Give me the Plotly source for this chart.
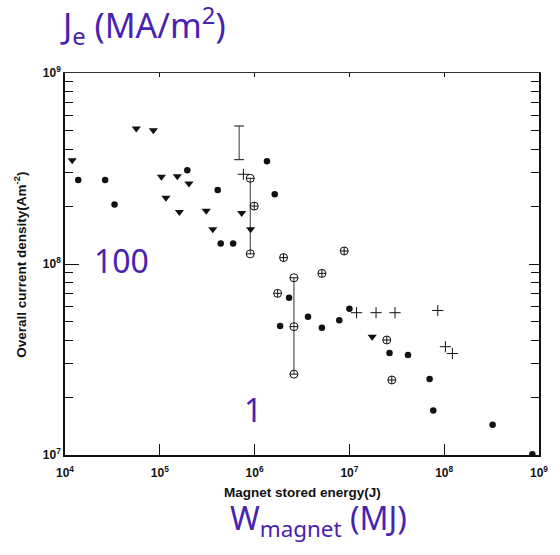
import plotly.graph_objects as go

# Overall current density (A/m^2) versus magnet stored energy (J)

# filled circles
circ_x = [1.38e4, 2.65e4, 3.33e4, 1.95e5, 4.08e5, 4.39e5, 5.94e5, 1.35e6, 1.63e6,
          1.86e6, 2.31e6, 1.00e7, 3.66e6, 5.13e6, 7.82e6, 2.65e7, 4.15e7, 7.02e7,
          7.67e7, 3.24e8, 8.51e8]
circ_y = [2.75e8, 2.75e8, 2.05e8, 3.10e8, 2.44e8, 1.28e8, 1.28e8, 3.45e8, 2.32e8,
          4.73e7, 6.65e7, 5.83e7, 5.30e7, 4.63e7, 5.07e7, 3.42e7, 3.34e7, 2.50e7,
          1.71e7, 1.44e7, 1.01e7]

# filled down-triangles
tri_x = [1.19e4, 5.65e4, 8.55e4, 1.04e5, 1.53e5, 2.03e5, 1.16e5, 1.61e5, 3.09e5,
         3.62e5, 7.31e5, 9.08e5, 1.74e7]
tri_y = [3.49e8, 5.12e8, 5.01e8, 2.86e8, 2.88e8, 2.64e8, 2.22e8, 1.87e8, 1.90e8,
         1.52e8, 1.85e8, 1.52e8, 4.16e7]

# plus signs
plus_x = [7.62e5, 1.19e7, 1.91e7, 3.03e7, 8.55e7, 1.03e8, 1.22e8]
plus_y = [2.95e8, 5.56e7, 5.56e7, 5.56e7, 5.71e7, 3.69e7, 3.40e7]

# circled plus
cplus_x = [9.91e5, 2.02e6, 1.75e6, 5.13e6, 8.81e6, 2.48e7, 2.80e7]
cplus_y = [2.01e8, 1.08e8, 7.02e7, 8.93e7, 1.17e8, 4.00e7, 2.47e7]

# circled minus, joined by vertical lines (two magnets)
cminA_x = [9.0e5, 9.0e5]
cminA_y = [2.81e8, 1.13e8]
cminB_x = [2.60e6, 2.60e6, 2.60e6]
cminB_y = [8.47e7, 4.70e7, 2.65e7]

# range bar
bar_x = [6.87e5, 6.87e5]
bar_y = [5.28e8, 3.52e8]

x_ticks = [1e4, 1e5, 1e6, 1e7, 1e8, 1e9]
x_tick_text = ["10<sup>4</sup>", "10<sup>5</sup>", "10<sup>6</sup>",
               "10<sup>7</sup>", "10<sup>8</sup>", "10<sup>9</sup>"]
y_ticks = [1e7, 1e8, 1e9]
y_tick_text = ["10<sup>7</sup>", "10<sup>8</sup>", "10<sup>9</sup>"]
y_minor = [m * 10 ** e for e in (7, 8) for m in range(2, 10)]

INK = "#111111"
PURPLE = "#4A22B0"

fig = go.Figure()

for xs, ys in ((cminA_x, cminA_y), (cminB_x, cminB_y)):
    fig.add_trace(go.Scatter(x=xs, y=ys, mode="lines",
                             line=dict(color="#333333", width=1)))

fig.add_trace(go.Scatter(x=bar_x, y=bar_y, mode="lines+markers",
                         line=dict(color="#333333", width=1),
                         marker=dict(symbol="line-ew-open", size=7, color="#333333",
                                     line=dict(color="#333333", width=1.2))))

fig.add_trace(go.Scatter(x=circ_x, y=circ_y, mode="markers",
                         marker=dict(symbol="circle", size=6.5, color=INK)))
fig.add_trace(go.Scatter(x=tri_x, y=tri_y, mode="markers",
                         marker=dict(symbol="triangle-down", size=8, color=INK)))
fig.add_trace(go.Scatter(x=plus_x, y=plus_y, mode="markers",
                         marker=dict(symbol="cross-thin-open", size=8, color=INK,
                                     line=dict(color=INK, width=1))))
fig.add_trace(go.Scatter(x=cplus_x, y=cplus_y, mode="markers",
                         marker=dict(symbol="circle-cross-open", size=8,
                                     color=INK, line=dict(color=INK, width=1))))
for xs, ys in ((cminA_x, cminA_y), (cminB_x, cminB_y)):
    fig.add_trace(go.Scatter(x=xs, y=ys, mode="markers",
                             marker=dict(symbol="circle-open", size=8, color=INK,
                                         line=dict(color=INK, width=1))))
    fig.add_trace(go.Scatter(x=xs, y=ys, mode="markers",
                             marker=dict(symbol="line-ew-open", size=6, color=INK,
                                         line=dict(color=INK, width=1))))

# top and right frame axes with their own short ticks
fig.add_trace(go.Scatter(x=[1e4], y=[1e7], xaxis="x2", yaxis="y2",
                         mode="markers", marker=dict(opacity=0)))

tick_font = dict(family="Liberation Sans, Arial", size=12, color=INK, weight="bold")
title_font = dict(family="Liberation Sans, Arial", size=13.5, color=INK, weight="bold")

fig.update_layout(
    width=560, height=555,
    margin=dict(l=65, r=14, t=73, b=100),
    paper_bgcolor="white", plot_bgcolor="white",
    showlegend=False,
    xaxis=dict(type="log", range=[4, 9], tickvals=x_ticks, ticktext=x_tick_text,
               ticks="inside", ticklen=11, tickwidth=1.2, tickcolor=INK,
               showline=True, linecolor=INK, linewidth=1.5, showgrid=False,
               zeroline=False, tickfont=tick_font, ticklabelstandoff=6),
    yaxis=dict(type="log", range=[7, 9], tickvals=y_ticks, ticktext=y_tick_text,
               ticks="inside", ticklen=14, tickwidth=1.2, tickcolor=INK,
               minor=dict(tickvals=y_minor, ticks="inside", ticklen=8,
                          tickwidth=1.2, tickcolor=INK, showgrid=False),
               showline=True, linecolor=INK, linewidth=1.5, showgrid=False,
               zeroline=False, tickfont=tick_font),
    xaxis2=dict(type="log", range=[4, 9], overlaying="x", side="top",
                tickvals=x_ticks[1:-1], ticks="inside", ticklen=4, tickwidth=1,
                tickcolor=INK, showticklabels=False, showline=True,
                linecolor="#333333", linewidth=1.2, showgrid=False, zeroline=False),
    yaxis2=dict(type="log", range=[7, 9], overlaying="y", side="right",
                tickvals=[1e8], ticks="inside", ticklen=10, tickwidth=1.2,
                tickcolor=INK, showticklabels=False,
                minor=dict(tickvals=y_minor, ticks="inside", ticklen=8,
                           tickwidth=1.2, tickcolor=INK, showgrid=False),
                showline=True, linecolor=INK, linewidth=1.5, showgrid=False,
                zeroline=False),
)

# axis titles
fig.add_annotation(text="Magnet stored energy(J)", xref="paper", yref="paper",
                   x=0.5, y=-0.0994, xanchor="center", yanchor="middle",
                   showarrow=False, font=title_font)
fig.add_annotation(text="Overall current density(Am<sup>-2</sup>)", xref="paper",
                   yref="paper", x=-0.0936, y=0.497, textangle=-90,
                   xanchor="center", yanchor="middle", showarrow=False, font=title_font)

# unit conversions written over the chart
hand = dict(family="Noto Sans", size=32, color=PURPLE)
fig.add_annotation(text="J<sub>e</sub> (MA/m<sup>2</sup>)", xref="paper", yref="paper",
                   x=-0.015, y=1.125, xanchor="left", yanchor="middle",
                   showarrow=False, font=dict(family="Noto Sans", size=34, color=PURPLE))
fig.add_annotation(text="100", xref="paper", yref="paper", x=0.1185, y=0.51,
                   xanchor="center", yanchor="middle", showarrow=False, font=hand)
fig.add_annotation(text="1", xref="paper", yref="paper", x=0.397, y=0.118,
                   xanchor="center", yanchor="middle", showarrow=False, font=hand)
fig.add_annotation(text="W<sub>magnet</sub> (MJ)", xref="paper", yref="paper",
                   x=0.343, y=-0.17, xanchor="left", yanchor="middle",
                   showarrow=False, font=hand)

fig.write_html("out.html")
